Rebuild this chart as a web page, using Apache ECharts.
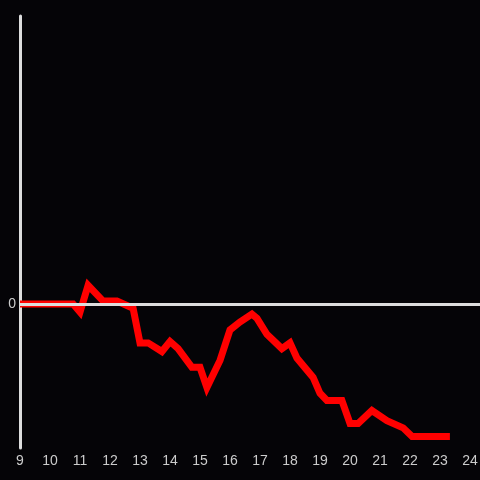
<!DOCTYPE html>
<html>
<head>
<meta charset="utf-8">
<script src="https://cdn.jsdelivr.net/npm/echarts@6/dist/echarts.min.js"></script>
<style>
  html, body { margin: 0; padding: 0; background: #050407; }
  #chart { width: 480px; height: 480px; }
</style>
</head>
<body>
<div id="chart"></div>
<script>
// hours of the day and the values
const hours = [9.0, 10.77, 11.0, 11.27, 11.77, 12.23, 12.77, 13.0, 13.27, 13.73, 14.0, 14.27,
  14.73, 15.0, 15.23, 15.67, 16.0, 16.33, 16.73, 16.9, 17.23, 17.73, 18.0, 18.23, 18.77,
  19.0, 19.23, 19.73, 20.0, 20.27, 20.73, 21.23, 21.77, 22.07, 23.33];
const values = [0, 0, -0.056, 0.13, 0.02, 0.02, -0.03, -0.27, -0.27, -0.33, -0.26, -0.31,
  -0.44, -0.44, -0.58, -0.39, -0.18, -0.125, -0.07, -0.1, -0.21, -0.31, -0.27, -0.375, -0.51,
  -0.62, -0.67, -0.67, -0.83, -0.83, -0.74, -0.81, -0.86, -0.92, -0.92];
const xTicks = [9, 10, 11, 12, 13, 14, 15, 16, 17, 18, 19, 20, 21, 22, 23, 24];

const chart = echarts.init(document.getElementById('chart'));
const option = {
  backgroundColor: '#050407',
  animation: false,
  textStyle: { fontFamily: 'Liberation Sans, sans-serif' },
  grid: { left: 20, right: 0, top: 16, bottom: 32, outerBoundsMode: 'none', containLabel: false },
  xAxis: {
    type: 'value',
    min: 9,
    max: 24 + 1 / 3,
    interval: 1,
    axisLine: { show: false },
    axisTick: { show: false },
    splitLine: { show: false },
    axisLabel: {
      color: '#cccccc',
      fontSize: 14,
      margin: 6,
      formatter: v => (xTicks.includes(v) ? String(v) : '')
    }
  },
  yAxis: {
    type: 'value',
    min: -1,
    max: 2,
    interval: 1,
    axisLine: { show: true, lineStyle: { color: '#dddddd', width: 3 } },
    axisTick: { show: false },
    splitLine: { show: false },
    axisLabel: {
      color: '#cccccc',
      fontSize: 14,
      margin: 4,
      formatter: v => (v === 0 ? '0' : '')
    }
  },
  series: [
    {
      type: 'line',
      data: [],
      z: 1,
      markLine: {
        silent: true,
        symbol: 'none',
        label: { show: false },
        lineStyle: { color: '#dddddd', width: 3, type: 'solid' },
        data: [{ yAxis: 0 }]
      }
    },
    {
      type: 'line',
      z: 3,
      showSymbol: false,
      lineStyle: { color: '#ff0000', width: 7, join: 'miter' },
      data: hours.map((h, i) => [h, values[i]])
    }
  ]
};
chart.setOption(option);
</script>
</body>
</html>
